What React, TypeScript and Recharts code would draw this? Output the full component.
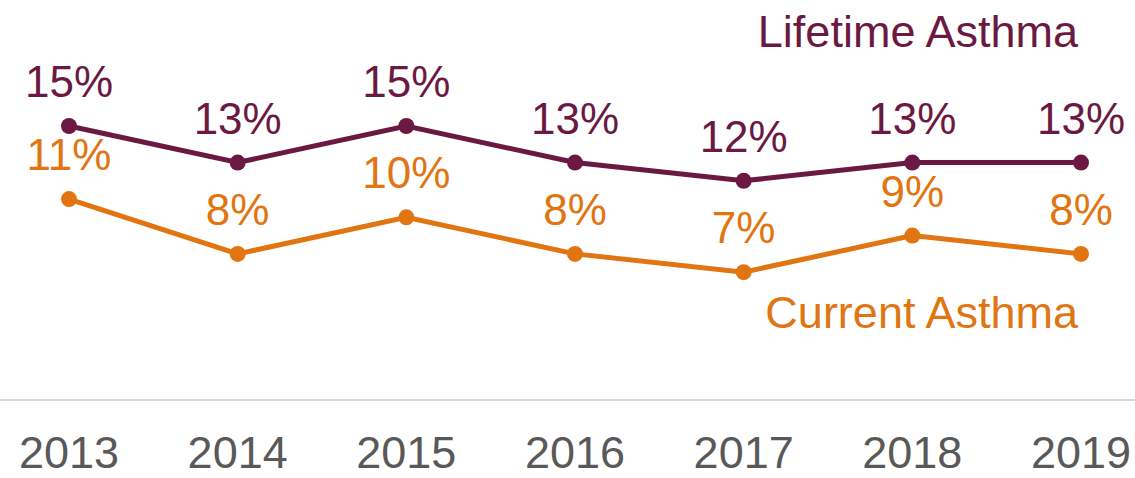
import { LineChart, Line, XAxis, YAxis, Customized } from 'recharts'

const years = ['2013', '2014', '2015', '2016', '2017', '2018', '2019']
const lifetimeAsthma = [15, 13, 15, 13, 12, 13, 13]
const currentAsthma = [11, 8, 10, 8, 7, 9, 8]

const MAROON = '#6b1942'
const ORANGE = '#e07512'
const FONT = '"Liberation Sans", Arial, sans-serif'

const data = years.map((year, i) => ({
  year,
  lifetime: lifetimeAsthma[i],
  current: currentAsthma[i],
}))

const pctLabel = (color: string) => (props: any) => {
  const { x, y, value, index } = props
  return (
    <text
      key={`lbl-${index}`}
      x={x}
      y={y - 29}
      textAnchor="middle"
      fill={color}
      fontSize={44}
      fontFamily={FONT}
    >
      {value}%
    </text>
  )
}

// plain filled dots; the default dot got a white centre on the first point
const solidDot = (color: string) => (props: any) => {
  const { cx, cy, index } = props
  return <circle key={`dot-${index}`} cx={cx} cy={cy} r={8} fill={color} />
}

const YearTick = (props: any) => {
  const { x, y, payload } = props
  return (
    <text x={x} y={y + 60} textAnchor="middle" fill="#595959" fontSize={45} fontFamily={FONT}>
      {payload.value}
    </text>
  )
}

// series names sit beside the lines instead of a legend box
const SeriesNames = () => (
  <g fontFamily={FONT} fontSize={45} textAnchor="end">
    <text x={1078} y={47} fill={MAROON}>Lifetime Asthma</text>
    <text x={1078} y={328} fill={ORANGE}>Current Asthma</text>
  </g>
)

export default function App() {
  return (
    <div style={{ position: 'absolute', left: 0, top: 0, background: '#fff' }}>
      <LineChart
        width={1135}
        height={478}
        data={data}
        margin={{ top: 0, right: 0, bottom: 0, left: 0 }}
      >
        <XAxis
          dataKey="year"
          height={78}
          interval={0}
          padding={{ left: 69, right: 54 }}
          tickLine={false}
          axisLine={{ stroke: '#d9d9d9', strokeWidth: 2 }}
          tick={<YearTick />}
        />
        <YAxis hide domain={[0, 21.9]} />
        <Line
          dataKey="lifetime"
          type="linear"
          stroke={MAROON}
          strokeWidth={5}
          dot={solidDot(MAROON)}
          activeDot={false}
          label={pctLabel(MAROON)}
          isAnimationActive={false}
        />
        <Line
          dataKey="current"
          type="linear"
          stroke={ORANGE}
          strokeWidth={5}
          dot={solidDot(ORANGE)}
          activeDot={false}
          label={pctLabel(ORANGE)}
          isAnimationActive={false}
        />
        <Customized component={SeriesNames} />
      </LineChart>
    </div>
  )
}
